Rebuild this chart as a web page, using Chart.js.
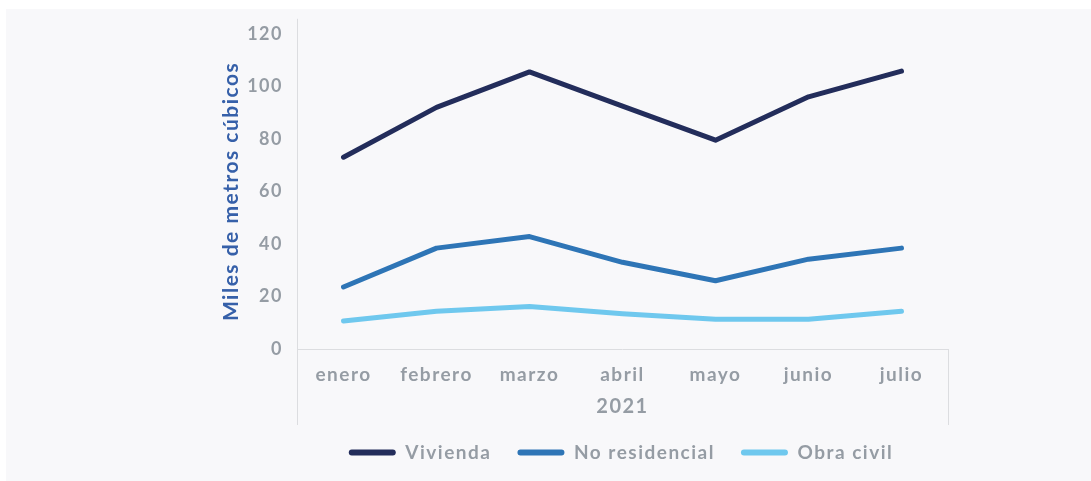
<!DOCTYPE html>
<html>
<head>
<meta charset="utf-8">
<script src="https://cdn.jsdelivr.net/npm/chart.js@4"></script>
<style>
  html, body { margin: 0; padding: 0; background: #ffffff; }
  #panel { position: absolute; left: 6px; top: 9px; width: 1085px; height: 472px; background: #f8f8fa; }
</style>
</head>
<body>
<div id="panel"><canvas id="chart" width="1085" height="472"></canvas></div>
<script>
// ---- data ----
const months = ['enero', 'febrero', 'marzo', 'abril', 'mayo', 'junio', 'julio'];
const vivienda = [73, 92, 105.5, 92.5, 79.5, 96, 105.8];
const noResidencial = [23.6, 38.4, 42.8, 33, 26, 34.2, 38.4];
const obraCivil = [10.7, 14.4, 16.2, 13.4, 11.3, 11.3, 14.4];
const yearLabel = '2021';
const yTitle = 'Miles de metros cúbicos';

const tickGray = '#959ca4';
const axisGray = '#dcdde0';
const FONT = 'Lato, "Open Sans", sans-serif';
const LEGEND_CENTER = 615; // legend sits right of the plot centre in the original

// excel-style frame: y line runs up past the plot, both ends drop below the x axis
const frameLines = {
  id: 'frameLines',
  afterInit(chart) {
    const lg = chart.legend;
    const fit = lg.fit;
    lg.fit = function () { fit.call(this); this.height = 56; };
  },
  beforeUpdate(chart) { chart.ctx.letterSpacing = '1.5px'; },
  afterLayout(chart) {
    const lg = chart.legend;
    const d = LEGEND_CENTER - (lg.left + lg.right) / 2;
    lg.left += d; lg.right += d;
  },
  beforeDraw(chart) { chart.ctx.letterSpacing = '1.5px'; },
  beforeDatasetsDraw(chart) {
    const { ctx, chartArea, scales } = chart;
    const drop = scales.x.bottom + 8;
    ctx.save();
    ctx.strokeStyle = axisGray;
    ctx.lineWidth = 1;
    ctx.beginPath();
    ctx.moveTo(chartArea.left + 0.5, chartArea.top - 15);
    ctx.lineTo(chartArea.left + 0.5, drop);
    ctx.moveTo(chartArea.right + 0.5, chartArea.bottom);
    ctx.lineTo(chartArea.right + 0.5, drop);
    ctx.moveTo(chartArea.left, chartArea.bottom + 0.5);
    ctx.lineTo(chartArea.right, chartArea.bottom + 0.5);
    ctx.stroke();
    ctx.restore();
  }
};

function series(label, data, color) {
  return {
    label, data,
    borderColor: color,
    backgroundColor: color,
    borderWidth: 5,
    borderCapStyle: 'round',
    borderJoinStyle: 'round',
    pointRadius: 0,
    tension: 0
  };
}

const ctx = document.getElementById('chart').getContext('2d');
new Chart(ctx, {
  type: 'line',
  data: {
    labels: months,
    datasets: [
      series('Vivienda', vivienda, '#232d5b'),
      series('No residencial', noResidencial, '#2e75b6'),
      series('Obra civil', obraCivil, '#6fc8ee')
    ]
  },
  options: {
    responsive: false,
    animation: false,
    layout: { padding: { left: 213, right: 143, top: 23, bottom: 8 } },
    scales: {
      x: {
        offset: true,
        grid: { display: false, drawTicks: false },
        border: { display: false },
        ticks: { color: tickGray, padding: 14, font: { family: FONT, size: 19, weight: 'bold' } },
        title: { display: true, text: yearLabel, color: tickGray, padding: { top: 0, bottom: 0 }, font: { family: FONT, size: 20, weight: 'bold', lineHeight: 1 } },
        afterFit(scale) { scale.height = 68; }
      },
      y: {
        min: 0, max: 120,
        grid: { display: false, drawTicks: false },
        border: { display: false },
        ticks: { stepSize: 20, color: tickGray, padding: 14, font: { family: FONT, size: 18, weight: 'bold' } },
        title: { display: true, text: yTitle, color: '#3660a9', padding: { top: 0, bottom: 0 }, font: { family: FONT, size: 21, weight: 'bold' } },
        afterFit(scale) { scale.width = 78; }
      }
    },
    plugins: {
      legend: {
        position: 'bottom',
        labels: {
          color: tickGray,
          boxWidth: 47, boxHeight: 6,
          useBorderRadius: true, borderRadius: 3,
          padding: 26,
          font: { family: FONT, size: 19, weight: 'bold' },
          generateLabels(chart) {
            return Chart.defaults.plugins.legend.labels.generateLabels(chart).map(l => Object.assign(l, { lineWidth: 0 }));
          }
        }
      },
      tooltip: { enabled: false }
    }
  },
  plugins: [frameLines]
});
</script>
</body>
</html>
